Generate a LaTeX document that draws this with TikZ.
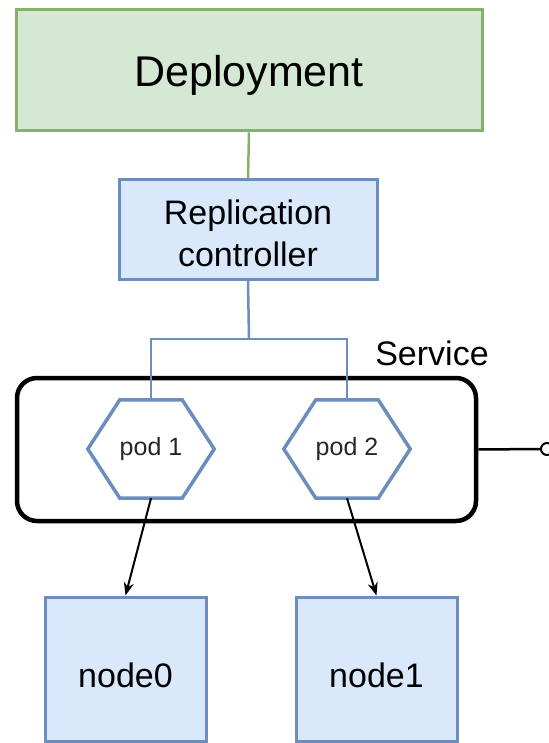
\documentclass[tikz,border=0pt]{standalone}
\usepackage{fontspec}
\setmainfont{Liberation Sans}
\usetikzlibrary{arrows.meta}
\definecolor{greenfill}{HTML}{D5E8D4}
\definecolor{greenline}{HTML}{82B366}
\definecolor{bluefill}{HTML}{DAE8FC}
\definecolor{blueline}{HTML}{6C8EBF}
\begin{document}
\begin{tikzpicture}[x=1pt, y=-1pt, >={Stealth[length=13pt,width=10pt]},
  bigfont/.style={font=\fontsize{34}{42}\selectfont},
  box/.style={draw=blueline, fill=bluefill, line width=3pt, inner sep=0pt, bigfont, align=center},
  podbox/.style={inner sep=0pt, minimum width=126pt, minimum height=98pt, text=black!85, font=\fontsize{25}{30}\selectfont},
  hexline/.style={draw=blueline, line width=3.5pt},
  wire/.style={line width=2.5pt}]
  \useasboundingbox (0,0) rectangle (548,743);

  \node[draw=greenline, fill=greenfill, line width=3pt, minimum width=466pt, minimum height=121pt,
        text depth=0pt, font=\fontsize{43}{50}\selectfont] (deploy) at (249,70.5) {Deployment};
  \node[box, minimum width=258pt, minimum height=99pt] (repl) at (248,229.5) {\rule{0pt}{33pt}Replication\\controller};

  \node[draw, rounded corners=20pt, line width=4.5pt, minimum width=459pt, minimum height=143pt] (service) at (246.5,449.5) {};
  \node[bigfont] (svclabel) at (432,353) {Service};

  \node[podbox] (pod1) at (151,449) {pod 1};
  \node[podbox] (pod2) at (347,449) {pod 2};
  \foreach \p in {pod1,pod2}
    \draw[hexline] (\p.west) -- ([xshift=32pt]\p.north west) -- ([xshift=-32pt]\p.north east) -- (\p.east)
      -- ([xshift=-32pt]\p.south east) -- ([xshift=32pt]\p.south west) -- cycle;

  \node[box, minimum width=161pt, minimum height=144pt, text height=36pt, text depth=0pt] (node0) at (125.5,669) {node0};
  \node[box, minimum width=161pt, minimum height=144pt, text height=36pt, text depth=0pt] (node1) at (376.5,669) {node1};

  \node[draw, circle, line width=2pt, minimum size=12pt, inner sep=0pt] (port) at (547,449) {};

  \coordinate (bus) at (249,339);
  \draw[wire, greenline] (deploy.south) -- (repl.north);
  \draw[wire, blueline] (repl.south) -- (bus);
  \draw[wire, blueline] (pod1.north) |- (bus) -| (pod2.north);
  \draw[wire] (service.east) -- (port.west);
  \draw[->, line width=2pt] (pod1.south) -- (node0.north);
  \draw[->, line width=2pt] (pod2.south) -- (node1.north);
\end{tikzpicture}
\end{document}
